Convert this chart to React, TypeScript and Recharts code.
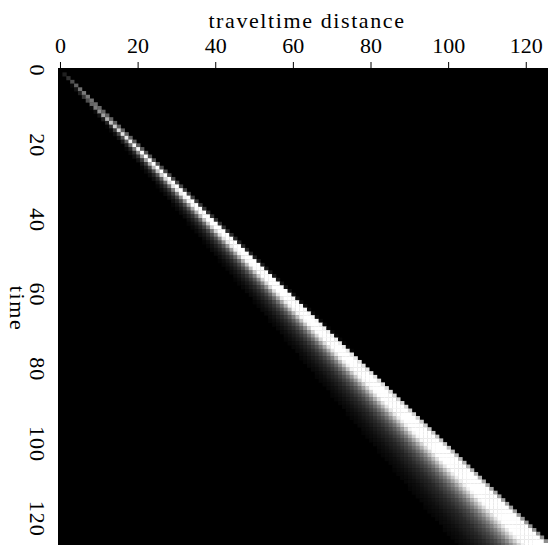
import { ScatterChart, Scatter, XAxis, YAxis, CartesianGrid } from "recharts";

// axis ticks
const distanceTicks = [0, 20, 40, 60, 80, 100, 120];
const timeTicks = [0, 20, 40, 60, 80, 100, 120];

// grid size (cells are one sample wide)
const distanceCount = 126;
const timeCount = 128;

// band cross-section: brightness vs distance/time
const profileRatio = [0.79, 0.83, 0.865, 0.89, 0.91, 0.925, 0.94, 0.99, 0.995];
const profileLevel = [0, 0.06, 0.16, 0.3, 0.5, 0.75, 1, 1, 0];

const W = 548;
const H = 545;
const LEFT = 58;
const TOP = 68;
const xDomain: [number, number] = [-0.64, 125.6];
const yDomain: [number, number] = [-0.67, 127.04];
const cellW = (W - LEFT) / (xDomain[1] - xDomain[0]);
const cellH = (H - TOP) / (yDomain[1] - yDomain[0]);

const FONT = "'Liberation Serif', 'DejaVu Serif', serif";

function level(r: number): number {
  if (r <= profileRatio[0] || r >= profileRatio[profileRatio.length - 1]) return 0;
  for (let i = 1; i < profileRatio.length; i++) {
    if (r <= profileRatio[i]) {
      const a = profileRatio[i - 1];
      const b = profileRatio[i];
      const k = (r - a) / (b - a);
      return profileLevel[i - 1] + k * (profileLevel[i] - profileLevel[i - 1]);
    }
  }
  return 0;
}

type Cell = { d: number; t: number; fill: string };

const cells: Cell[] = [];
for (let t = 1; t < timeCount; t++) {
  for (let d = 0; d < distanceCount; d++) {
    let sum = 0;
    for (let i = 0; i < 8; i++) {
      const x = d - 0.5 + (i + 0.5) / 8;
      if (x > 0) sum += level(x / t);
    }
    const v = sum / 8;
    if (v < 0.02) continue;
    const g = Math.round(v * 255);
    cells.push({ d, t, fill: `rgb(${g},${g},${g})` });
  }
}

// anchor points for the rotated time labels, sitting on the left plot edge
const timeLabelPoints = timeTicks.map((t) => ({ d: xDomain[0], t }));

const renderCell = (props: any) => {
  const { cx, cy, payload } = props;
  return (
    <rect
      x={cx - cellW / 2}
      y={cy - cellH / 2}
      width={cellW + 0.4}
      height={cellH + 0.4}
      fill={payload.fill}
    />
  );
};

const renderTimeTickLabel = (props: any) => {
  const { cx, cy, payload } = props;
  return (
    <g transform={`translate(${cx - 20.5}, ${cy}) rotate(90)`}>
      <text
        x={0}
        y={0}
        textAnchor="middle"
        dominantBaseline="central"
        fontFamily={FONT}
        fontSize={22}
        letterSpacing={1}
        fill="#000"
      >
        {payload.t}
      </text>
    </g>
  );
};

const renderTitle = (props: any) => {
  const { x, y, width } = props.viewBox;
  return (
    <text
      x={x + width / 2 + 4}
      y={y + 28}
      textAnchor="middle"
      fontFamily={FONT}
      fontSize={22}
      letterSpacing={1.6}
      fill="#000"
    >
      traveltime distance
    </text>
  );
};

const renderTimeLabel = (props: any) => {
  const { x, y, height } = props.viewBox;
  return (
    <g transform={`translate(${x + 17}, ${y + height / 2 + 2}) rotate(90)`}>
      <text
        x={0}
        y={0}
        textAnchor="middle"
        dominantBaseline="central"
        fontFamily={FONT}
        fontSize={22}
        letterSpacing={1.6}
        fill="#000"
      >
        time
      </text>
    </g>
  );
};

export default function App() {
  return (
    <div style={{ position: "absolute", left: 0, top: 0, background: "#fff" }}>
      <ScatterChart
        width={W}
        height={H}
        margin={{ top: 0, right: 0, bottom: 0, left: 0 }}
      >
        <CartesianGrid
          horizontal={false}
          vertical={false}
          fill="#000"
          fillOpacity={1}
          stroke="none"
        />
        <XAxis
          type="number"
          dataKey="d"
          orientation="top"
          domain={xDomain}
          ticks={distanceTicks}
          height={TOP}
          axisLine={false}
          tickSize={6}
          tickMargin={9}
          tickLine={{ stroke: "#000" }}
          tick={{ fontFamily: FONT, fontSize: 22, fill: "#000" }}
          label={renderTitle}
        />
        <YAxis
          type="number"
          dataKey="t"
          domain={yDomain}
          ticks={timeTicks}
          reversed
          width={LEFT}
          axisLine={false}
          tickSize={6}
          tickLine={{ stroke: "#000" }}
          tick={false}
          label={renderTimeLabel}
        />
        <Scatter
          data={cells}
          shape={renderCell}
          isAnimationActive={false}
        />
        <Scatter
          data={timeLabelPoints}
          shape={renderTimeTickLabel}
          isAnimationActive={false}
        />
      </ScatterChart>
    </div>
  );
}
